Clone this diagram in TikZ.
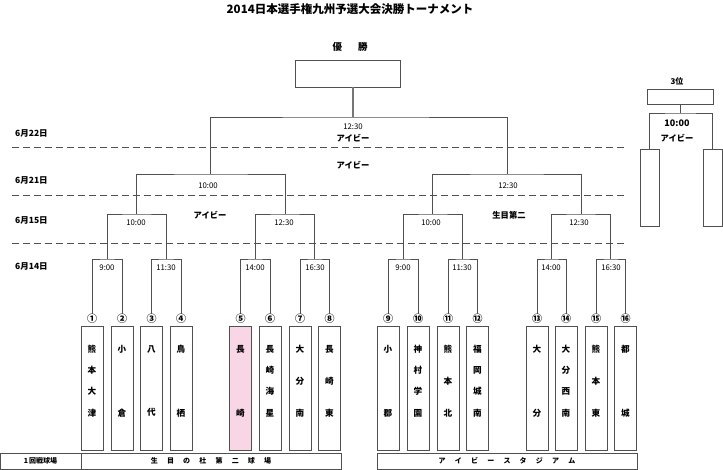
\documentclass[tikz,border=0pt]{standalone}
\usepackage{fontspec}
\setmainfont{Noto Sans CJK JP}
\definecolor{ln}{HTML}{505050}
\definecolor{lgt}{HTML}{777777}
\definecolor{pk}{HTML}{F9D6E6}
\newcommand\vgap{\hspace{9.2pt}}
\begin{document}
\begin{tikzpicture}[x=1pt,y=-1pt,
  line/.style={draw=ln, line width=0.9pt},
  tbox/.style={draw=ln, line width=0.8pt, minimum width=22pt, minimum height=124pt, inner sep=0pt},
  cnum/.style={font=\bfseries\fontsize{10}{10}\selectfont, inner sep=0.3pt},
  tname/.style={font=\bfseries\fontsize{8.6}{21.3}\selectfont, align=center, inner sep=0pt},
  tlab/.style={font=\fontsize{7.8}{7.8}\selectfont, inner sep=1pt},
  vlab/.style={font=\bfseries\fontsize{8.3}{8.3}\selectfont, inner sep=1pt},
  dlab/.style={font=\bfseries\fontsize{8.5}{8.5}\selectfont, anchor=west, inner sep=0pt},
  sepline/.style={draw=ln, line width=0.9pt, dash pattern=on 6.5pt off 4.5pt},
  vbox/.style={draw=ln, line width=0.7pt, minimum height=16pt, inner sep=0pt, font=\bfseries\fontsize{7}{7}\selectfont}
]
\useasboundingbox (0,0) rectangle (723,470);

% title
\node[font=\bfseries\fontsize{11.5}{11.5}\selectfont, inner sep=0pt] (title) at (350,9) {2014日本選手権九州予選大会決勝トーナメント};

% winner
\node[font=\bfseries\fontsize{9.5}{9.5}\selectfont, inner sep=0pt] (wint) at (350,47) {優\hspace{16pt}勝};
\node[draw=ln, line width=0.8pt, minimum width=105pt, minimum height=27pt, inner sep=0pt] (win) at (347.5,73.5) {};
\coordinate (wb) at (353,87);

% dates
\node[dlab] (d22) at (15,133) {6月22日};
\node[dlab] (d21) at (15,180) {6月21日};
\node[dlab] (d15) at (15,220) {6月15日};
\node[dlab] (d14) at (15,266) {6月14日};

% dashed separators
\coordinate (a1) at (12,147); \coordinate (b1) at (628,147);
\coordinate (a2) at (12,195); \coordinate (b2) at (628,195);
\coordinate (a3) at (12,243); \coordinate (b3) at (628,243);
\draw[sepline] (a1) -- (b1);
\draw[sepline] (a2) -- (b2);
\draw[sepline] (a3) -- (b3);

% team boxes
\node[tbox] (t1) at (92,388) {};
\node[tbox] (t2) at (122,388) {};
\node[tbox] (t3) at (151.5,388) {};
\node[tbox] (t4) at (181,388) {};
\node[tbox, fill=pk] (t5) at (240.5,388) {};
\node[tbox] (t6) at (270,388) {};
\node[tbox] (t7) at (300,388) {};
\node[tbox] (t8) at (329.5,388) {};
\node[tbox] (t9) at (388,388) {};
\node[tbox] (t10) at (418,388) {};
\node[tbox] (t11) at (448,388) {};
\node[tbox] (t12) at (477.5,388) {};
\node[tbox] (t13) at (537,388) {};
\node[tbox] (t14) at (566,388) {};
\node[tbox] (t15) at (596,388) {};
\node[tbox] (t16) at (625.5,388) {};

% team names
\node[tname] (tn1) at (92,381) {熊\\本\\大\\津};
\node[tname] (tn2) at (122,381) {小\\[42.6pt]倉};
\node[tname] (tn3) at (151.5,381) {八\\[42.6pt]代};
\node[tname] (tn4) at (181,381) {鳥\\[42.6pt]栖};
\node[tname] (tn5) at (240.5,381) {長\\[42.6pt]崎};
\node[tname] (tn6) at (270,381) {長\\崎\\海\\星};
\node[tname] (tn7) at (300,381) {大\\[10.7pt]分\\[10.7pt]南};
\node[tname] (tn8) at (329.5,381) {長\\[10.7pt]崎\\[10.7pt]東};
\node[tname] (tn9) at (388,381) {小\\[42.6pt]郡};
\node[tname] (tn10) at (418,381) {神\\村\\学\\園};
\node[tname] (tn11) at (448,381) {熊\\[10.7pt]本\\[10.7pt]北};
\node[tname] (tn12) at (477.5,381) {福\\岡\\城\\南};
\node[tname] (tn13) at (537,381) {大\\[42.6pt]分};
\node[tname] (tn14) at (566,381) {大\\分\\西\\南};
\node[tname] (tn15) at (596,381) {熊\\[10.7pt]本\\[10.7pt]東};
\node[tname] (tn16) at (625.5,381) {都\\[42.6pt]城};

% circled numbers
\node[cnum] (n1) at (92,319) {①};
\node[cnum] (n2) at (122,319) {②};
\node[cnum] (n3) at (151.5,319) {③};
\node[cnum] (n4) at (181,319) {④};
\node[cnum] (n5) at (240.5,319) {⑤};
\node[cnum] (n6) at (270,319) {⑥};
\node[cnum] (n7) at (300,319) {⑦};
\node[cnum] (n8) at (329.5,319) {⑧};
\node[cnum] (n9) at (388,319) {⑨};
\node[cnum] (n10) at (418,319) {⑩};
\node[cnum] (n11) at (448,319) {⑪};
\node[cnum] (n12) at (477.5,319) {⑫};
\node[cnum] (n13) at (537,319) {⑬};
\node[cnum] (n14) at (566,319) {⑭};
\node[cnum] (n15) at (596,319) {⑮};
\node[cnum] (n16) at (625.5,319) {⑯};

% bracket joints
\coordinate (m1) at (107,259);
\coordinate (m2) at (166.25,259);
\coordinate (m3) at (255.25,259);
\coordinate (m4) at (314.75,259);
\coordinate (m5) at (403,259);
\coordinate (m6) at (462.75,259);
\coordinate (m7) at (551.5,259);
\coordinate (m8) at (610.75,259);
\coordinate (q1) at (136.6,214);
\coordinate (q2) at (285,214);
\coordinate (q3) at (432.9,214);
\coordinate (q4) at (581.1,214);
\coordinate (s1) at (210.8,174);
\coordinate (s2) at (507,174);
\coordinate (fin) at (353,117);

% first round
\draw[line] (n1.north) |- (m1) -| (n2.north);
\draw[line] (n3.north) |- (m2) -| (n4.north);
\draw[line] (n5.north) |- (m3) -| (n6.north);
\draw[line] (n7.north) |- (m4) -| (n8.north);
\draw[line] (n9.north) |- (m5) -| (n10.north);
\draw[line] (n11.north) |- (m6) -| (n12.north);
\draw[line] (n13.north) |- (m7) -| (n14.north);
\draw[line] (n15.north) |- (m8) -| (n16.north);
% second round
\draw[line] (m1) |- (q1) -| (m2);
\draw[line] (m3) |- (q2) -| (m4);
\draw[line] (m5) |- (q3) -| (m6);
\draw[line] (m7) |- (q4) -| (m8);
% semi-finals
\draw[line] (q1) |- (s1) -| (q2);
\draw[line] (q3) |- (s2) -| (q4);
% final
\draw[line] (s1) |- (fin) -| (s2);
\draw[draw=lgt, line width=1.3pt] (wb) -- (fin);

% time labels
\node[tlab] (k1) at (107,268) {9:00};
\node[tlab] (k2) at (166,268) {11:30};
\node[tlab] (k3) at (255,268) {14:00};
\node[tlab] (k4) at (315,268) {16:30};
\node[tlab] (k5) at (403,268) {9:00};
\node[tlab] (k6) at (462,268) {11:30};
\node[tlab] (k7) at (551,268) {14:00};
\node[tlab] (k8) at (611,268) {16:30};
\node[tlab] (k9) at (136,223) {10:00};
\node[tlab] (k10) at (284,223) {12:30};
\node[tlab] (k11) at (431,223) {10:00};
\node[tlab] (k12) at (579,223) {12:30};
\node[tlab] (k13) at (208,186) {10:00};
\node[tlab] (k14) at (508,186) {12:30};
\node[tlab] (k15) at (353,127) {12:30};

% venue labels
\node[vlab] (v1) at (353,138) {アイビー};
\node[vlab] (v2) at (353,165) {アイビー};
\node[vlab] (v3) at (210,215) {アイビー};
\node[vlab] (v4) at (509,215) {生目第二};

% bottom venue boxes
\node[vbox, minimum width=81pt] (g0) at (40.5,461) {1\,回戦球場};
\node[vbox, minimum width=260pt] (g1) at (211,461) {生\vgap 目\vgap の\vgap 杜\vgap 第\vgap 二\vgap 球\vgap 場};
\node[vbox, minimum width=260pt] (g2) at (507,461) {ア\vgap イ\vgap ビ\vgap ー\vgap ス\vgap タ\vgap ジ\vgap ア\vgap ム};

% third place
\node[font=\bfseries\fontsize{8}{8}\selectfont, inner sep=0pt] (thirdt) at (677,81) {3位};
\node[draw=ln, line width=0.8pt, minimum width=66pt, minimum height=15pt, inner sep=0pt] (third) at (680,96.5) {};
\coordinate (tp) at (680,113);
\node[draw=ln, line width=0.8pt, minimum width=19pt, minimum height=77pt, inner sep=0pt] (tl) at (649.5,187.5) {};
\node[draw=ln, line width=0.8pt, minimum width=19pt, minimum height=77pt, inner sep=0pt] (tr) at (712.5,187.5) {};
\draw[line] (third.south) -- (tp);
\draw[line] (tl.north) |- (tp) -| (tr.north);
\node[font=\bfseries\fontsize{9}{9}\selectfont, inner sep=0pt] (tt) at (677,123) {10:00};
\node[vlab] (tv) at (677,138) {アイビー};
\end{tikzpicture}
\end{document}
